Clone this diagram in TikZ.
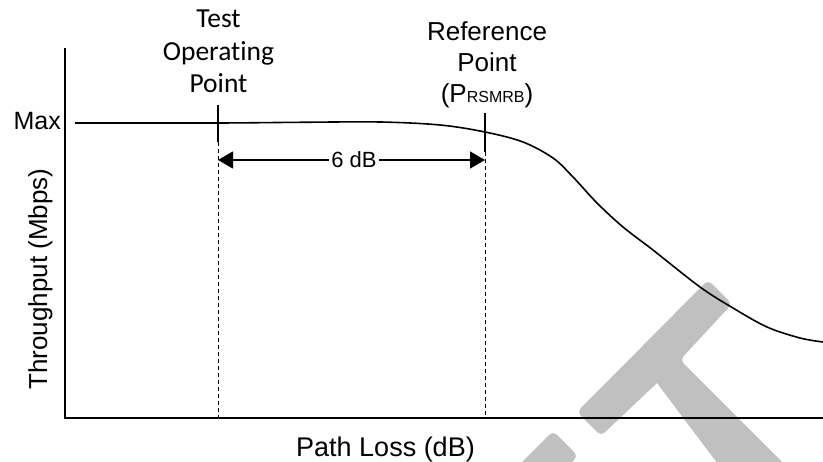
\documentclass[tikz,border=0pt]{standalone}
\usepackage{fontspec}
\setmainfont{Liberation Sans}
\newfontfamily\calibrifont[Ligatures=CommonOff]{Carlito}
\usetikzlibrary{arrows.meta}
\definecolor{wm}{HTML}{C0C0C0}

\begin{document}
\begin{tikzpicture}[x=1pt,y=-1pt,
  axis/.style={line width=1.8pt},
  curve/.style={line width=1.6pt, line join=round},
  tickline/.style={line width=1.8pt},
  guide/.style={line width=0.9pt, dash pattern=on 4pt off 3pt},
  span/.style={line width=1.4pt,
    {Triangle[length=15pt,width=17pt]}-{Triangle[length=15pt,width=17pt]}},
  wmshape/.style={fill=wm, draw=none, rounded corners=5pt},
  lbl/.style={inner sep=0pt, font=\fontsize{26}{31}\selectfont}
]
\useasboundingbox (0,0) rectangle (823,462);

% grey stamp behind the plot
\begin{scope}
  \clip (0,0) rectangle (823,462);
  \fill[wmshape] (577,412) -- (708,280) -- (732,304) -- (680,360)
    -- (800,480) [sharp corners] -- (760,520) -- (657,383) [rounded corners=5pt] -- (601,436) -- cycle;
  \fill[wmshape] (553,431) -- (578,456) [sharp corners] -- (530,504) -- (505,479) [rounded corners=5pt] -- cycle;
\end{scope}

% axes
\coordinate (ytop) at (65,48);
\coordinate (origin) at (65,418);
\coordinate (xend) at (823,418);
\draw[axis] (ytop) -- (origin) -- (xend);

% marker lines
\coordinate (ttop) at (218,105);
\coordinate (tmid) at (218,142);
\coordinate (tbot) at (218,417);
\coordinate (rtop) at (485,113);
\coordinate (rmid) at (485,152);
\coordinate (rbot) at (485,417);
\draw[tickline] (ttop) -- (tmid);
\draw[guide] (tmid) -- (tbot);
\draw[tickline] (rtop) -- (rmid);
\draw[guide] (rmid) -- (rbot);

% throughput curve
\draw[curve] plot[smooth, tension=0.55] coordinates {
  (75,123) (218,123) (300,122.3) (380,122) (440,125) (485,132)
  (523,142) (553,158) (573,177) (597,203) (623,227) (653,250)
  (700,287) (733,308) (767,327) (800,338) (823,342)};

% 6 dB span
\coordinate (aL) at (218,160);
\coordinate (aR) at (485,160);
\draw[span] (aL) -- (aR);
\node[fill=white, inner xsep=2pt, inner ysep=1pt, font=\fontsize{22}{24}\selectfont] (gap) at (354,160) {6 dB};

% labels
\node[lbl, font=\calibrifont\fontsize{27.5}{32.5}\selectfont, align=center, anchor=south] (testlbl) at (218.5,93) {Test\\Operating\\Point};
\node[lbl, font=\fontsize{26}{31}\selectfont, align=center, anchor=south] (reflbl) at (487,108)
  {Reference\\Point\\(P{\fontsize{16}{16}\selectfont RSMRB})};
\node[lbl, font=\fontsize{25}{30}\selectfont, anchor=base east] (maxlbl) at (61,130) {Max};
\node[lbl, font=\fontsize{27}{30}\selectfont, anchor=base] (xlbl) at (385.5,456.5) {Path Loss (dB)};
\node[lbl, rotate=90, anchor=base] (ylbl) at (47,279) {Throughput (Mbps)};
\end{tikzpicture}
\end{document}
